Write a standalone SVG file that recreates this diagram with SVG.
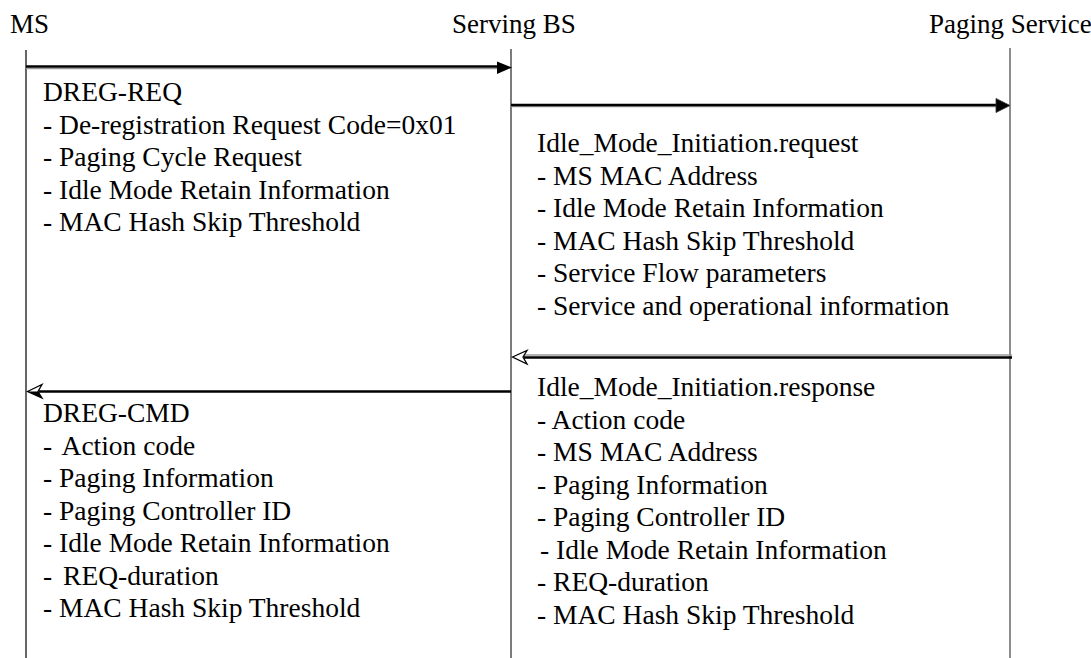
<svg xmlns="http://www.w3.org/2000/svg" width="1091" height="658" viewBox="0 0 1091 658">
<style>
text{font-family:'Liberation Serif','Times New Roman',serif;font-size:27.5px;fill:#000}
.hd{font-size:27px}
.ll{fill:none}
.msg{stroke:#000;stroke-width:2.6;fill:none}
.shadow{stroke:#9a9a9a;stroke-width:1.4;fill:none}
.open{fill:#fff;stroke:#000;stroke-width:1.3;stroke-linejoin:miter}
</style>
<g id="ms">
<text class="hd" x="10" y="33">MS</text>
<line class="ll" x1="26" y1="50" x2="26" y2="658" stroke="#000" stroke-width="1.2"/>
</g>
<g id="serving-bs">
<text class="hd" x="452" y="33">Serving BS</text>
<line class="ll" x1="511" y1="49" x2="511" y2="658" stroke="#444" stroke-width="1.4"/>
</g>
<g id="paging-service">
<text class="hd" x="929" y="33">Paging Service</text>
<line class="ll" x1="1010" y1="48" x2="1010" y2="658" stroke="#808080" stroke-width="1.8"/>
</g>
<g id="connectors">
<line class="shadow" x1="26" y1="68.5" x2="500" y2="68.5"/>
<line class="msg" x1="26" y1="66.5" x2="500" y2="66.5"/>
<path d="M512,67.5 L497,61.5 L497,74 Z" fill="#000"/>
<line class="shadow" x1="511" y1="106.5" x2="998" y2="106.5"/>
<line class="msg" x1="511" y1="105" x2="998" y2="105"/>
<path d="M1010,105.5 L996,98.5 L996,112.5 Z" fill="#000" stroke="#333" stroke-width="0.8"/>
<line class="shadow" x1="1012" y1="355" x2="524" y2="355"/>
<line class="msg" x1="1012" y1="357.5" x2="524" y2="357.5"/>
<path class="open" d="M512.5,357 L527,350.5 L523,357 L527,364 Z"/>
<line class="msg" x1="511" y1="391.5" x2="39" y2="391.5"/>
<path class="open" d="M27.5,391.5 L42,384.5 L38,391.5 L42,398 Z"/>
<path d="M27.5,391.5 L38,391.5 L42,398 Z" fill="#000"/>
</g>
<g id="dreg-req">
<text x="43" y="101">DREG-REQ</text>
<text x="43" y="133.5">- De-registration Request Code=0x01</text>
<text x="43" y="166">- Paging Cycle Request</text>
<text x="43" y="198.5">- Idle Mode Retain Information</text>
<text x="43" y="231">- MAC Hash Skip Threshold</text>
</g>
<g id="idle-request">
<text x="537" y="152">Idle_Mode_Initiation.request</text>
<text x="537" y="184.5">- MS MAC Address</text>
<text x="537" y="217">- Idle Mode Retain Information</text>
<text x="537" y="249.5">- MAC Hash Skip Threshold</text>
<text x="537" y="282">- Service Flow parameters</text>
<text x="537" y="314.5">- Service and operational information</text>
</g>
<g id="idle-response">
<text x="537" y="396">Idle_Mode_Initiation.response</text>
<text x="537" y="428.5">- Action code</text>
<text x="537" y="461">- MS MAC Address</text>
<text x="537" y="493.5">- Paging Information</text>
<text x="537" y="526">- Paging Controller ID</text>
<text x="540" y="558.5">- Idle Mode Retain Information</text>
<text x="537" y="591">- REQ-duration</text>
<text x="537" y="623.5">- MAC Hash Skip Threshold</text>
</g>
<g id="dreg-cmd">
<text x="43" y="422">DREG-CMD</text>
<text x="43" y="454.5">- <tspan dx="4">Action code</tspan></text>
<text x="43" y="487">- Paging Information</text>
<text x="43" y="519.5">- Paging Controller ID</text>
<text x="43" y="552">- Idle Mode Retain Information</text>
<text x="43" y="584.5">- <tspan dx="4">REQ-duration</tspan></text>
<text x="43" y="617">- MAC Hash Skip Threshold</text>
</g>
</svg>
